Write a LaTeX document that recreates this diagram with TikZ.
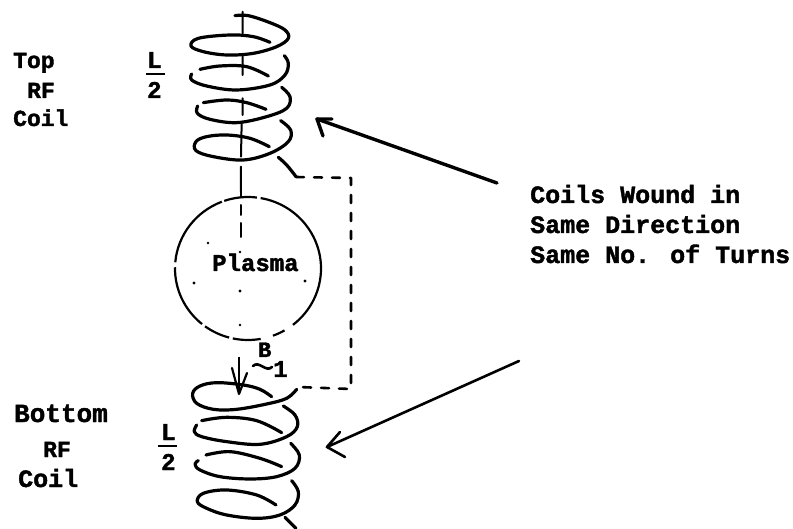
\documentclass[tikz,border=0pt]{standalone}
\usepackage{fontspec}
\setmainfont{Liberation Mono}[BoldFeatures={FakeBold=1.6}]
\tikzset{
  lbl/.style={anchor=base west,inner sep=0pt,font=\fontsize{#1}{#1}\selectfont\bfseries},
  wire/.style={line width=3.2pt,line cap=round,line join=round},
  axisline/.style={line width=2pt,line cap=round},
  zone/.style={x=0.3333pt,y=-0.3333pt},
}
\begin{document}
\begin{tikzpicture}[x=1pt,y=-1pt]
\useasboundingbox (0,0) rectangle (793,529);
\fill[white] (0,0) rectangle (793,529);
% top coil
\begin{scope}[shift={(170,0)},zone]
\draw[wire] plot[smooth,tension=0.6] coordinates {(195,47)(235,47)(300,68)(345,90)(355,115)(320,140)(250,160)(170,165)(100,155)(63,138)(85,115)(180,105)(250,110)(300,127)};
\draw[wire] plot[smooth,tension=0.6] coordinates {(343,167)(355,190)(345,225)(300,255)(200,270)(110,258)(65,240)(65,222)};
\draw[wire] plot[smooth,tension=0.6] coordinates {(90,208)(150,198)(230,200)(295,228)};
\draw[wire] plot[smooth,tension=0.6] coordinates {(335,262)(360,290)(350,325)(290,350)(200,368)(120,358)(82,340)(83,318)};
\draw[wire] plot[smooth,tension=0.6] coordinates {(100,308)(170,300)(230,308)(288,328)};
\draw[wire] plot[smooth,tension=0.6] coordinates {(332,362)(362,390)(355,425)(300,460)(220,480)(130,470)(78,452)(78,425)(110,410)(170,405)(240,415)(298,440)};
\draw[wire] plot[smooth,tension=0.6] coordinates {(325,472)(350,495)(378,530)};
\draw[axisline] (218,35)--(218,100) (218,170)--(218,225) (218,295)--(218,345) (215,370)--(213,470) (213,500)--(213,575);
\end{scope}
% bottom coil
\begin{scope}[shift={(170,330)},zone]
\draw[wire] plot[smooth,tension=0.6] coordinates {(380,178)(350,205)(290,222)(200,238)(130,238)(80,220)(68,190)(90,168)(140,158)(220,165)(270,178)(305,200)};
\draw[wire] plot[smooth,tension=0.6] coordinates {(340,228)(375,255)(382,290)(350,320)(270,343)(170,335)(95,320)(73,305)(80,285)};
\draw[wire] plot[smooth,tension=0.6] coordinates {(95,272)(170,262)(260,272)(335,308)};
\draw[wire] plot[smooth,tension=0.6] coordinates {(362,340)(388,375)(375,415)(320,440)(240,447)(150,440)(90,420)(75,402)(85,392)};
\draw[wire] plot[smooth,tension=0.6] coordinates {(108,375)(180,365)(270,385)(335,410)};
\draw[wire] plot[smooth,tension=0.6] coordinates {(365,452)(385,485)(375,525)(330,555)(260,565)(170,555)(110,535)(82,515)(100,490)(170,480)(260,495)(318,525)};
\draw[wire] plot[smooth,tension=0.6] coordinates {(345,562)(378,595)};
\end{scope}
% dashed link
\coordinate (linkA) at (296,177);
\coordinate (linkB) at (351,178);
\coordinate (linkC) at (351,389);
\coordinate (linkD) at (298,387);
\draw[line width=2.6pt,line cap=round,line join=round,dash pattern=on 8pt off 10pt] (linkA)--(linkB)--(linkC)--(linkD);
% plasma circle
\coordinate (centre) at (248,268.5);
\foreach \a/\b in {280/412,60/70,80/102,105/126,129/181,185/249,251/277}
  \draw[line width=2.2pt] (centre) ++(\a:73 and 71.5) arc[start angle=\a,end angle=\b,x radius=73,y radius=71.5];
% axis inside the circle
\draw[axisline] (241,190)--(241,197) (241,205)--(241,215) (241,223)--(241,237);
\fill (240,252) circle(1.4) (240,291) circle(1.7) (240,325) circle(1.4) (194,283) circle(1.6) (305,281) circle(1.6) (208,243) circle(1.3);
% B1 arrow
\coordinate (bTail) at (239,357);
\coordinate (bTip) at (239,394);
\coordinate (bBarbL) at (232,368);
\coordinate (bBarbR) at (247,373);
\draw[line width=1.5pt] (bTail)--(bTip);
\draw[line width=2.2pt,line cap=round,line join=round] (bBarbL)--(bTip)--(bBarbR);
% pointer arrows
\coordinate (upTail) at (497,183);
\coordinate (upTip) at (317,119);
\coordinate (upA) at (332,119);
\coordinate (upB) at (323,136);
\draw[line width=3.4pt,line cap=round] (upTail)--(upTip);
\draw[line width=3.4pt,line cap=round,line join=round] (upA)--(upTip)--(upB);
\coordinate (loTail) at (519,361);
\coordinate (loTip) at (327,447);
\coordinate (loA) at (340,432);
\coordinate (loB) at (345,457);
\draw[line width=2.6pt,line cap=round] (loTail)--(loTip);
\draw[line width=2.6pt,line cap=round,line join=round] (loA)--(loTip)--(loB);
% texts
\node[lbl=25] (t1) at (530,203) {Coils Wound in};
\node[lbl=25] (t2) at (530,233) {Same Direction};
\node[lbl=25] (t3) at (530,263) {Same No. of Turns};
\node[lbl=23] (top) at (13,68) {Top};
\node[lbl=23] (rf1) at (27,98) {RF};
\node[lbl=23] (coil1) at (13,126) {Coil};
\node[lbl=26] (bot) at (14,422) {Bottom};
\node[lbl=23] (rf2) at (43,457) {RF};
\node[lbl=25] (coil2) at (18,487) {Coil};
\node[lbl=24] (plasma) at (212,271) {Plasma};
\node[lbl=24] (l1) at (147,68) {L};
\node[lbl=24] (two1) at (147,98) {2};
\node[lbl=24] (l2) at (161,440) {L};
\node[lbl=24] (two2) at (161,470) {2};
\draw[line width=2pt] (l1.south west)++(-1,6) coordinate (bar1) -- ++(19,0);
\draw[line width=2pt] (l2.south west)++(-3,6) coordinate (bar2) -- ++(19,0);
\node[lbl=22] (bvec) at (258,357) {B};
\node[lbl=24] (sub1) at (273,377) {1};
\coordinate (tildeA) at (253,366);
\coordinate (tildeB) at (272,367);
\draw[line width=2.6pt,line cap=round] (tildeA) .. controls (259,360) and (266,373) .. (tildeB);
\end{tikzpicture}
\end{document}
